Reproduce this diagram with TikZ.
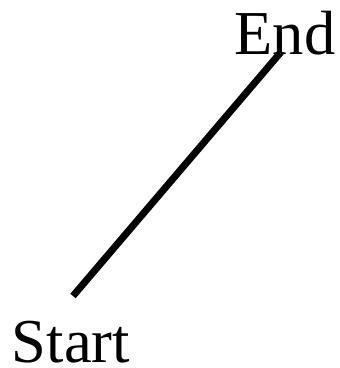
\documentclass[tikz,border=0pt]{standalone}
\usepackage{fontspec}
\setmainfont{Liberation Serif}
\begin{document}
\begin{tikzpicture}[x=1pt,y=1pt,
  lbl/.style={anchor=base,inner sep=0pt,font=\fontsize{62.5}{62.5}\selectfont},
  conn/.style={line width=7pt}]
\useasboundingbox (0,0) rectangle (340,368);
\node[lbl] (start) at (71,5.5) {Start};
\node[lbl] (end) at (285,313) {End};
\coordinate (s) at (73,72);
\coordinate (e) at (281,316);
\draw[conn] (s) -- (e);
\end{tikzpicture}
\end{document}
